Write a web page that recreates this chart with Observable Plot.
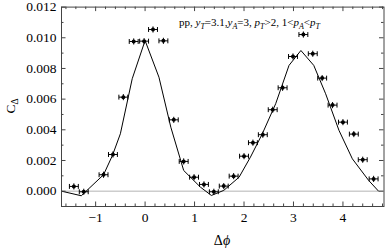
<!DOCTYPE html>
<html><head><meta charset="utf-8">
<script src="https://cdn.jsdelivr.net/npm/d3@7"></script>
<script src="https://cdn.jsdelivr.net/npm/@observablehq/plot@0.6"></script>
<style>body{margin:0;background:#fff;} #chart svg{display:block}</style>
</head><body><div id="chart"></div>
<script>
// Data points (Δφ, C_Δ)
const pointDphi = [-1.44, -1.24, -0.84, -0.65, -0.44, -0.23, -0.02, 0.16, 0.37, 0.58, 0.78, 0.99, 1.19, 1.39, 1.59, 1.79, 2.00, 2.18, 2.38, 2.58, 2.78, 2.99, 3.20, 3.39, 3.58, 3.79, 4.00, 4.22, 4.40, 4.62];
const pointC = [0.00031, -0.00004, 0.00107, 0.00239, 0.00613, 0.00976, 0.00978, 0.01054, 0.00980, 0.00465, 0.00194, 0.00091, 0.00044, -0.00004, 0.00033, 0.00098, 0.00228, 0.00316, 0.00368, 0.00531, 0.00674, 0.00878, 0.01021, 0.00896, 0.00737, 0.00561, 0.00450, 0.00372, 0.00205, 0.00080];
const xErr = 0.09;
const yErr = 0.0002;
// Model curve
const curveDphi = [-1.69, -1.29, -0.84, -0.66, -0.50, -0.26, 0.00, 0.28, 0.52, 0.78, 1.12, 1.34, 1.59, 1.90, 2.13, 2.37, 2.64, 2.91, 3.15, 3.41, 3.65, 3.92, 4.19, 4.52, 4.72];
const curveC = [0.00000, -0.00030, 0.00107, 0.00233, 0.00374, 0.00733, 0.00982, 0.00743, 0.00417, 0.00135, 0.00026, -0.00028, 0.00005, 0.00091, 0.00222, 0.00374, 0.00570, 0.00820, 0.00917, 0.00820, 0.00635, 0.00396, 0.00211, 0.00070, 0.00000];
// Ticks
const xTicks = [-1, 0, 1, 2, 3, 4];
const xMinorTicks = [-1.6,-1.4,-1.2,-0.8,-0.6,-0.4,-0.2,0.2,0.4,0.6,0.8,1.2,1.4,1.6,1.8,2.2,2.4,2.6,2.8,3.2,3.4,3.6,3.8,4.2,4.4,4.6,4.8];
const yTicks = [0, 0.002, 0.004, 0.006, 0.008, 0.010, 0.012];
const yMinorTicks = [-0.001, 0.001, 0.003, 0.005, 0.007, 0.009, 0.011];

const points = pointDphi.map((x, i) => ({x, y: pointC[i]}));
const curve = curveDphi.map((x, i) => ({x, y: curveC[i]}));

const W = 385, H = 249, ML = 61, MR = 1.5, MT = 6.6, MB = 43;
const innerW = W - ML - MR, innerH = H - MT - MB;
const majorLen = 4.5, minorLen = 2.5;
const frameColor = "#444";
const chart = Plot.plot({
  width: W, height: H,
  marginLeft: ML, marginRight: MR, marginTop: MT, marginBottom: MB,
  x: {domain: [-1.69, 4.83]},
  y: {domain: [-0.001, 0.012]},
  style: {fontFamily: "'Liberation Serif', serif", fontSize: "13.5px", color: "black", background: "white"},
  marks: [
    Plot.ruleY([0], {stroke: "#b4b4b4", strokeWidth: 1}),
    Plot.line(curve, {x: "x", y: "y", stroke: "black", strokeWidth: 1}),
    Plot.link(points, {x1: d => d.x - xErr, x2: d => d.x + xErr, y1: "y", y2: "y", stroke: "black", strokeWidth: 1}),
    Plot.link(points, {x1: d => d.x - xErr, x2: d => d.x - xErr, y1: d => d.y - 0.00016, y2: d => d.y + 0.00016, stroke: "black", strokeWidth: 1}),
    Plot.link(points, {x1: d => d.x + xErr, x2: d => d.x + xErr, y1: d => d.y - 0.00016, y2: d => d.y + 0.00016, stroke: "black", strokeWidth: 1}),
    Plot.link(points, {x1: "x", x2: "x", y1: d => d.y - yErr, y2: d => d.y + yErr, stroke: "black", strokeWidth: 1}),
    Plot.dot(points, {x: "x", y: "y", r: 2, fill: "black"}),
    Plot.frame({stroke: frameColor, strokeWidth: 1}),
    // inward ticks on all four sides
    Plot.ruleX(xTicks, {x: d => d, insetTop: innerH - majorLen, stroke: frameColor}),
    Plot.ruleX(xMinorTicks, {x: d => d, insetTop: innerH - minorLen, stroke: frameColor}),
    Plot.ruleX(xTicks, {x: d => d, insetBottom: innerH - majorLen, stroke: frameColor}),
    Plot.ruleX(xMinorTicks, {x: d => d, insetBottom: innerH - minorLen, stroke: frameColor}),
    Plot.ruleY(yTicks, {y: d => d, insetRight: innerW - majorLen, stroke: frameColor}),
    Plot.ruleY(yMinorTicks, {y: d => d, insetRight: innerW - minorLen, stroke: frameColor}),
    Plot.ruleY(yTicks, {y: d => d, insetLeft: innerW - majorLen, stroke: frameColor}),
    Plot.ruleY(yMinorTicks, {y: d => d, insetLeft: innerW - minorLen, stroke: frameColor}),
    // tick labels
    Plot.axisX(xTicks, {anchor: "bottom", tickSize: 0, tickPadding: 6, label: null, tickFormat: d => d < 0 ? "\u2212" + Math.abs(d) : String(d)}),
    Plot.axisY(yTicks, {anchor: "left", tickSize: 0, tickPadding: 5, label: null, tickFormat: d3.format(".3f")})
  ]
});
document.getElementById("chart").appendChild(chart);

const svg = d3.select(chart);
// x label
const xl = svg.append("text").attr("x", 222).attr("y", 245).attr("text-anchor", "middle")
  .attr("font-size", 14).attr("fill", "black");
xl.append("tspan").text("Δ");
xl.append("tspan").attr("font-style", "italic").text("ϕ");
// y label
const yl = svg.append("text").attr("transform", "translate(15,106) rotate(-90)").attr("text-anchor", "middle")
  .attr("font-size", 13.5).attr("fill", "black");
yl.append("tspan").text("C");
yl.append("tspan").attr("font-size", 9.5).attr("dy", 3).text("Δ");
// annotation
const an = svg.append("text").attr("x", 179).attr("y", 26).attr("text-anchor", "start")
  .attr("font-size", 11).attr("fill", "black");
function seg(t, italic, sub) {
  const s = an.append("tspan").text(t);
  if (italic) s.attr("font-style", "italic");
  if (sub) s.attr("font-size", 8).attr("dy", 2.5);
  return s;
}
function after(t, italic) {
  const s = an.append("tspan").attr("dy", -2.5).text(t);
  if (italic) s.attr("font-style", "italic");
  return s;
}
seg("pp, ");
seg("y", true); seg("T", true, true); after("=3.1,");
seg("y", true); seg("A", true, true); after("=3, ");
seg("p", true); seg("T", true, true); after(">2, 1<");
seg("p", true); seg("A", true, true); after("<");
seg("p", true); seg("T", true, true);
</script>
</body></html>
